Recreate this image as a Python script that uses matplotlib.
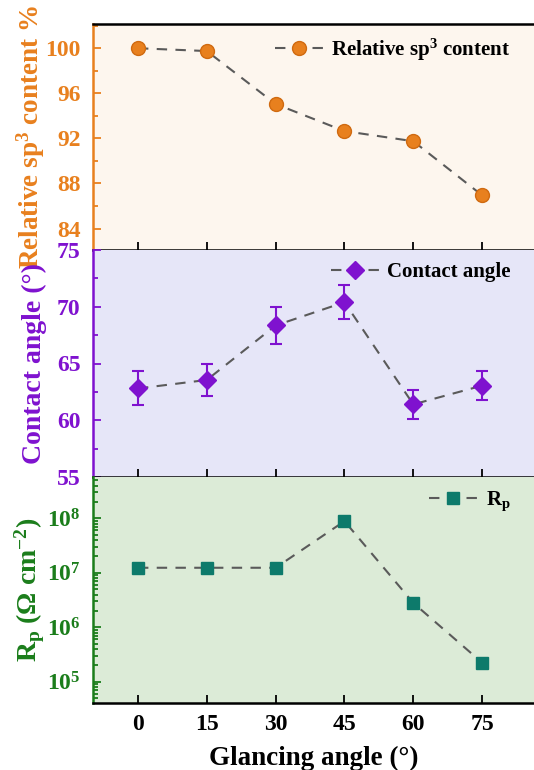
import numpy as np
import matplotlib
matplotlib.use('Agg')
import matplotlib.pyplot as plt
from matplotlib.ticker import MultipleLocator, LogLocator

plt.rcParams['font.family'] = ['Liberation Serif', 'DejaVu Serif']
plt.rcParams['font.weight'] = 'bold'
plt.rcParams['mathtext.default'] = 'regular'

# Data
angle = [0, 15, 30, 45, 60, 75]
sp3 = [100.0, 99.75, 95.05, 92.65, 91.75, 86.95]
contact = [62.8, 63.55, 68.35, 70.4, 61.4, 63.05]
contact_err = [1.5, 1.4, 1.6, 1.5, 1.3, 1.3]
rp = [1.24e7, 1.24e7, 1.24e7, 8.9e7, 2.8e6, 2.24e5]

orange = '#e8801e'
purple = '#7f12cf'
green = '#1b7d1b'
teal = '#0d7a6b'
dash = '#5a5a5a'

fig = plt.figure(figsize=(5.34, 7.7), dpi=100)
left, right = 93 / 534, 1.0
bounds = [(24, 250), (250, 477), (477, 703)]
axes = []
for top, bot in bounds:
    ax = fig.add_axes([left, 1 - bot / 770, right - left, (bot - top) / 770])
    axes.append(ax)
ax1, ax2, ax3 = axes

for ax, bg, col in [(ax1, '#fdf6ee', orange), (ax2, '#e6e6f8', purple), (ax3, '#dcebd7', green)]:
    ax.set_facecolor(bg)
    ax.set_xlim(-9.8, 86.3)
    ax.set_xticks(angle)
    ax.spines['right'].set_visible(False)
    ax.spines['top'].set_visible(ax is ax1)
    ax.spines['top'].set_linewidth(1.8)
    ax.spines['bottom'].set_linewidth(1.8)
    ax.spines['left'].set_color(col)
    ax.spines['left'].set_linewidth(1.8)
    ax.tick_params(axis='x', direction='in', length=6, width=1.3, top=False)
    ax.tick_params(axis='y', which='both', direction='in', colors=col, labelsize=17, width=1.3, pad=9)
    ax.tick_params(axis='y', which='major', length=6)
    ax.tick_params(axis='y', which='minor', length=3.5)

ax1.tick_params(axis='x', labelbottom=False)
ax2.tick_params(axis='x', labelbottom=False)

# top: relative sp3 content
ax1.plot(angle, sp3, '--', color=dash, lw=1.5, dashes=(5, 4), marker='o', ms=10,
         mfc=orange, mec='#d06a10', mew=1, label='Relative sp$^3$ content')
ax1.set_ylim(82.1, 102.15)
ax1.set_yticks([84, 88, 92, 96, 100])
ax1.yaxis.set_minor_locator(MultipleLocator(2))
ax1.set_ylabel('Relative sp$^3$ content %', color=orange, fontsize=19.5, fontweight='bold')

# middle: contact angle
ax2.errorbar(angle, contact, yerr=contact_err, fmt='D', color=purple, ms=9, capsize=4,
             elinewidth=1.5, capthick=1.5, zorder=3)
ax2.plot(angle, contact, '--', color=dash, lw=1.5, dashes=(5, 4), zorder=2)
ax2.plot([], [], '--', color=dash, lw=1.5, dashes=(5, 4), marker='D', ms=9, mfc=purple,
         mec=purple, label='Contact angle')
ax2.set_ylim(55, 75)
ax2.yaxis.set_major_locator(MultipleLocator(5))
ax2.yaxis.set_minor_locator(MultipleLocator(2.5))
ax2.set_ylabel('Contact angle (°)', color=purple, fontsize=20, fontweight='bold')

# bottom: Rp
ax3.plot(angle, rp, '--', color=dash, lw=1.5, dashes=(5, 4), marker='s', ms=8,
         mfc=teal, mec=teal, label='R$_p$')
ax3.set_yscale('log')
ax3.set_ylim(10 ** 4.61, 10 ** 8.76)
ax3.set_yticks([1e5, 1e6, 1e7, 1e8])
ax3.yaxis.set_minor_locator(LogLocator(base=10, subs=np.arange(2, 10), numticks=10))
ax3.set_ylabel('R$_p$ ($\\Omega$ cm$^{-2}$)', color=green, fontsize=20, fontweight='bold')
ax3.set_xticklabels([str(a) for a in angle], fontsize=17, fontweight='bold')
ax3.tick_params(axis='x', pad=8)
ax3.set_xlabel('Glancing angle (°)', fontsize=19.5, fontweight='bold', labelpad=8)

for ax in axes:
    for t in ax.get_yticklabels():
        t.set_fontweight('bold')
    ax.yaxis.set_label_coords(-0.105, 0.5)
    ax.legend(loc='upper right', bbox_to_anchor=(0.975, 1.0), frameon=False, handlelength=2.3,
              handletextpad=0.4, borderaxespad=0.2, prop={'size': 15, 'weight': 'bold'})

fig.savefig('out.png', dpi=100)
